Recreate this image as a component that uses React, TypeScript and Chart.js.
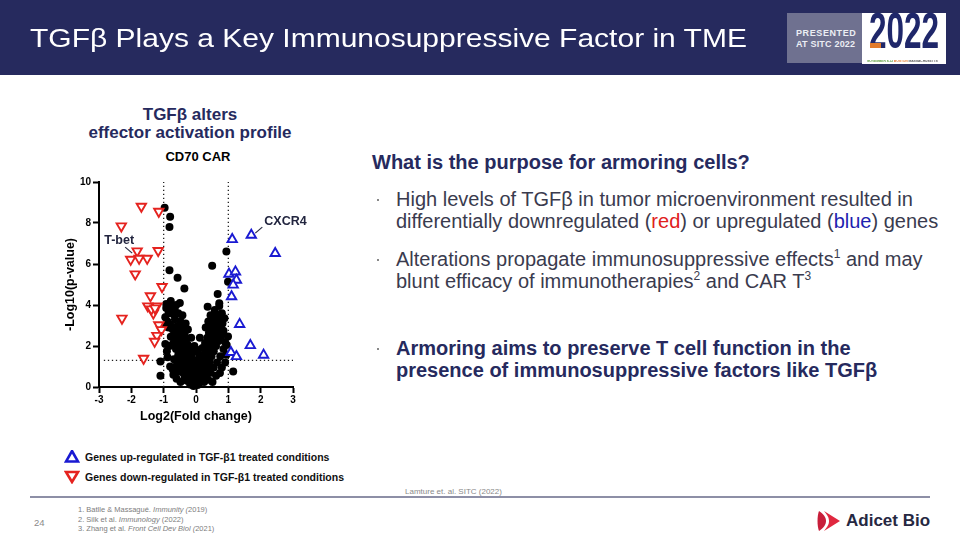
import React, { useEffect, useRef } from "react";
import { Chart, registerables } from "chart.js";

Chart.register(...registerables);

// ---------- data ----------
const xTickValues = [-3, -2, -1, 0, 1, 2, 3];
const yTickValues = [0, 2, 4, 6, 8, 10];
const foldChangeCutoffs = [-1, 1];
const pValueCutoff = 1.3;
const pValueLineStart = -2.85;

// Genes up-regulated (blue, triangle up): [log2FC, -log10 p]
const upGenes: [number, number][] = [
  [1.12, 7.2], [1.71, 7.41], [2.45, 6.52], [1.02, 5.51], [1.22, 5.62],
  [1.25, 5.22], [1.15, 4.98], [1.1, 4.41], [1.35, 3.06], [1.68, 2.03],
  [1.08, 1.69], [1.25, 1.49], [2.09, 1.56],
];

// Genes down-regulated (red, triangle down)
const downGenes: [number, number][] = [
  [-1.69, 8.81], [-1.15, 8.56], [-2.31, 7.85], [-1.82, 6.63], [-1.17, 6.65],
  [-2.02, 6.22], [-1.76, 6.27], [-1.51, 6.27], [-1.88, 5.51], [-1.05, 4.89],
  [-1.41, 4.44], [-1.49, 3.95], [-1.21, 3.95], [-1.32, 3.6], [-1.38, 3.8],
  [-1.27, 3.85], [-2.29, 3.35], [-1.15, 3.03], [-1.07, 2.79], [-1.21, 2.51],
  [-1.28, 2.22], [-1.62, 1.39],
];

// Genes not significantly changed (black circles)
const otherGenes: [number, number][] = [
  [-0.97, 8.74], [-0.8, 8.3], [-0.82, 7.81], [0.94, 6.61], [0.5, 5.92],
  [-0.82, 5.7], [-0.57, 5.33], [-0.36, 4.81], [0.99, 5.14], [0.67, 4.54],
  [-0.92, 4.05], [-0.61, 4.0], [0.36, 3.92], [0.72, 4.08], [0.58, 3.76],
  [-0.95, 2.95], [0.99, 2.46], [0.94, 1.57], [-1.1, 1.25], [1.15, 0.76],
  [-1.1, 0.55], [0.74, 0.68], [0.51, 0.24],
  [-0.92, 3.85], [-0.85, 3.6], [-0.75, 3.9], [-0.7, 3.55], [-0.95, 3.4],
  [-0.88, 3.2], [-0.8, 3.05], [-0.65, 3.3], [-0.55, 3.6], [-0.48, 3.2],
  [-0.6, 2.95], [-0.72, 2.8], [-0.85, 2.9], [-0.4, 2.9], [-0.52, 2.7],
  [-0.65, 2.55], [-0.78, 2.45], [-0.45, 2.45], [-0.35, 2.6], [-0.58, 2.3],
  [-0.7, 2.15], [-0.4, 2.15], [-0.3, 2.3], [-0.52, 2.0], [-0.62, 1.85],
  [-0.35, 1.9], [-0.25, 2.05], [-0.45, 1.7], [-0.55, 1.55], [-0.3, 1.6],
  [-0.2, 1.75], [-0.4, 1.4], [-0.5, 1.25], [-0.25, 1.35], [-0.15, 1.5],
  [-0.35, 1.15], [-0.6, 1.05], [-0.45, 0.95], [-0.2, 1.1], [-0.1, 1.25],
  [-0.3, 0.9], [-0.72, 0.85], [-0.55, 0.75], [-0.4, 0.7], [-0.15, 0.85],
  [-0.25, 0.65], [-0.05, 0.95], [-0.35, 0.5], [-0.2, 0.45], [-0.1, 0.6],
  [-0.28, 0.3], [-0.12, 0.25], [-0.05, 0.4], [-0.18, 0.12], [-0.02, 0.1],
  [-0.08, 0.05], [-0.88, 1.45], [-0.8, 1.0], [-0.68, 1.35], [-0.95, 2.1],
  [-0.9, 1.75], [-0.82, 2.0], [-0.32, 3.1], [-0.25, 2.8], [-0.42, 3.5],
  [-0.66, 3.8], [-0.78, 4.2], [-0.5, 4.1],
  [0.05, 0.1], [0.1, 0.2], [0.02, 0.3], [0.15, 0.4], [0.08, 0.55],
  [0.22, 0.6], [0.12, 0.75], [0.28, 0.85], [0.18, 0.95], [0.05, 0.8],
  [0.35, 1.0], [0.25, 1.1], [0.15, 1.2], [0.42, 1.25], [0.32, 1.35],
  [0.2, 1.45], [0.48, 1.5], [0.38, 1.6], [0.28, 1.7], [0.55, 1.75],
  [0.45, 1.85], [0.2, 1.9], [0.35, 1.95], [0.62, 2.0], [0.52, 2.1],
  [0.28, 2.15], [0.42, 2.25], [0.7, 2.25], [0.6, 2.35], [0.35, 2.4],
  [0.5, 2.5], [0.78, 2.5], [0.68, 2.6], [0.4, 2.65], [0.58, 2.75],
  [0.85, 2.75], [0.75, 2.85], [0.3, 2.9], [0.48, 2.95], [0.65, 3.05],
  [0.82, 3.1], [0.38, 3.2], [0.55, 3.25], [0.72, 3.35], [0.45, 3.5],
  [0.62, 3.55], [0.8, 3.6], [0.52, 3.1], [0.9, 2.2], [0.85, 1.85],
  [0.75, 1.5], [0.65, 1.2], [0.55, 0.95], [0.45, 0.7], [0.9, 1.2],
  [0.8, 0.95], [0.62, 0.55], [0.38, 0.35], [0.25, 0.25], [0.95, 2.05],
  [0.88, 3.35], [0.72, 3.95],
  [-0.08, 0.2], [0.0, 0.15], [-0.15, 0.3], [0.1, 0.35], [0.0, 0.5],
  [-0.05, 0.7], [0.05, 0.65], [0.0, 1.0], [-0.1, 1.7], [0.1, 1.55],
  [0.0, 1.3], [-0.05, 2.0], [0.05, 1.8], [-0.15, 2.4], [0.12, 2.4],
  [-0.6, 0.4], [-0.48, 0.25], [-0.7, 0.6], [0.3, 0.5],
];

const labeledGenes = [
  { name: "CXCR4", x: 1.71, y: 7.41 },
  { name: "T-bet", x: -1.82, y: 6.63 },
];

// ---------- styles ----------
const FONT = "'Liberation Sans', Arial, Helvetica, sans-serif";
const NAVY = "#262a5e";
const BLUE = "#1a1ad2";
const RED = "#e5231f";

const labelOffsets: Record<string, { line: number[]; text: number[]; align: CanvasTextAlign }> = {
  CXCR4: { line: [4, -2, 11, -8], text: [13, -14], align: "left" },
  "T-bet": { line: [-5, 2, -12, -4], text: [-18, -11], align: "center" },
};

const guidesPlugin = {
  id: "guides",
  beforeDatasetsDraw(chart: any) {
    const { ctx } = chart;
    const xs = chart.scales.x;
    const ys = chart.scales.y;
    ctx.save();
    ctx.strokeStyle = "#222";
    ctx.lineWidth = 1.3;
    ctx.setLineDash([1.3, 2.7]);
    foldChangeCutoffs.forEach((v) => {
      const px = xs.getPixelForValue(v);
      ctx.beginPath();
      ctx.moveTo(px, ys.getPixelForValue(0));
      ctx.lineTo(px, ys.getPixelForValue(10));
      ctx.stroke();
    });
    const py = ys.getPixelForValue(pValueCutoff);
    ctx.beginPath();
    ctx.moveTo(xs.getPixelForValue(pValueLineStart), py);
    ctx.lineTo(xs.getPixelForValue(3), py);
    ctx.stroke();
    ctx.restore();
  },
  afterDatasetsDraw(chart: any) {
    const { ctx } = chart;
    const xs = chart.scales.x;
    const ys = chart.scales.y;
    ctx.save();
    labeledGenes.forEach((g) => {
      const o = labelOffsets[g.name];
      const px = xs.getPixelForValue(g.x);
      const py = ys.getPixelForValue(g.y);
      ctx.strokeStyle = "#2a2d45";
      ctx.lineWidth = 1.2;
      ctx.setLineDash([]);
      ctx.beginPath();
      ctx.moveTo(px + o.line[0], py + o.line[1]);
      ctx.lineTo(px + o.line[2], py + o.line[3]);
      ctx.stroke();
      ctx.fillStyle = "#22253f";
      ctx.font = `bold 12.5px ${FONT}`;
      ctx.textAlign = o.align;
      ctx.textBaseline = "middle";
      ctx.fillText(g.name, px + o.text[0], py + o.text[1]);
    });
    ctx.restore();
  },
};

function Volcano() {
  const ref = useRef<HTMLCanvasElement | null>(null);
  useEffect(() => {
    if (!ref.current) return;
    const tickFont = { family: FONT, size: 10, weight: "bold" as const };
    const titleFont = { family: FONT, size: 12.5, weight: "bold" as const };
    const chart = new Chart(ref.current, {
      type: "scatter",
      data: {
        datasets: [
          {
            label: "up",
            data: upGenes.map(([x, y]) => ({ x, y })),
            pointStyle: "triangle",
            pointRadius: 5.4,
            pointBorderWidth: 1.9,
            pointBorderColor: BLUE,
            pointBackgroundColor: "#fff",
            order: 1,
            clip: false,
          } as any,
          {
            label: "down",
            data: downGenes.map(([x, y]) => ({ x, y })),
            pointStyle: "triangle",
            pointRotation: 180,
            pointRadius: 5.4,
            pointBorderWidth: 1.9,
            pointBorderColor: RED,
            pointBackgroundColor: "#fff",
            order: 2,
            clip: false,
          } as any,
          {
            label: "other",
            data: otherGenes.map(([x, y]) => ({ x, y })),
            pointStyle: "circle",
            pointRadius: 4,
            pointBorderWidth: 0,
            pointBackgroundColor: "#000",
            pointBorderColor: "#000",
            order: 3,
            clip: false,
          } as any,
        ],
      },
      options: {
        animation: false,
        responsive: false,
        events: [],
        layout: { padding: { left: 0, right: 27, top: 17, bottom: 2 } },
        plugins: { legend: { display: false }, tooltip: { enabled: false } },
        scales: {
          x: {
            type: "linear",
            min: -3,
            max: 3,
            afterBuildTicks: (s: any) => {
              s.ticks = xTickValues.map((v) => ({ value: v }));
            },
            afterFit: (s: any) => {
              s.height = 41;
            },
            grid: { drawOnChartArea: false, drawTicks: true, tickLength: 6, tickWidth: 2, tickColor: "#000" },
            border: { display: true, color: "#000", width: 2 },
            ticks: { color: "#000", font: tickFont, padding: 1, maxRotation: 0, autoSkip: false },
            title: { display: true, text: "Log2(Fold change)", color: "#000", font: titleFont, padding: { top: 0, bottom: 4 } },
          },
          y: {
            type: "linear",
            min: 0,
            max: 10,
            afterBuildTicks: (s: any) => {
              s.ticks = yTickValues.map((v) => ({ value: v }));
            },
            afterFit: (s: any) => {
              s.width = 39;
            },
            grid: { drawOnChartArea: false, drawTicks: true, tickLength: 6, tickWidth: 2, tickColor: "#000" },
            border: { display: true, color: "#000", width: 2 },
            ticks: { color: "#000", font: tickFont, padding: 2, autoSkip: false },
            title: { display: true, text: "-Log10(p-value)", color: "#000", font: titleFont, padding: { top: 3, bottom: 0 } },
          },
        },
      } as any,
      plugins: [guidesPlugin],
    });
    return () => chart.destroy();
  }, []);
  return (
    <canvas
      ref={ref}
      width={260}
      height={265}
      style={{ position: "absolute", left: 60, top: 165, width: 260, height: 265 }}
    />
  );
}

function T(props: { x: number; cy: number; size: number; children: any; style?: any; lh?: number }) {
  const lh = props.lh ?? Math.round(props.size * 1.15);
  return (
    <div
      style={{
        position: "absolute",
        left: props.x,
        top: props.cy - lh / 2,
        fontSize: props.size,
        lineHeight: lh + "px",
        whiteSpace: "nowrap",
        ...props.style,
      }}
    >
      {props.children}
    </div>
  );
}

function Tri({ x, y, color, down }: { x: number; y: number; color: string; down?: boolean }) {
  const pts = down ? "2,2 14,2 8,12" : "8,1 14,11.5 2,11.5";
  return (
    <svg width={16} height={14} style={{ position: "absolute", left: x - 8, top: y - 7 }}>
      <polygon points={pts} fill="#fff" stroke={color} strokeWidth={2.6} strokeLinejoin="miter" />
    </svg>
  );
}

export default function App() {
  const body: React.CSSProperties = { color: "#3a3b4e" };
  const sup: React.CSSProperties = { fontSize: 12, verticalAlign: "top", lineHeight: "14px", position: "relative", top: -1 };
  return (
    <div
      style={{
        position: "absolute",
        left: 0,
        top: 0,
        width: 960,
        height: 540,
        background: "#fff",
        overflow: "hidden",
        fontFamily: FONT,
      }}
    >
      {/* header */}
      <div style={{ position: "absolute", left: 0, top: 0, width: 960, height: 75, background: NAVY }} />
      <T x={30} cy={38} size={25} style={{ color: "#fff", transform: "scaleX(1.2)", transformOrigin: "left center" }}>
        TGFβ Plays a Key Immunosuppressive Factor in TME
      </T>
      {/* SITC badge */}
      <div style={{ position: "absolute", left: 787, top: 13, width: 75, height: 50, background: "#6f7190" }} />
      <T x={796} cy={33} size={9} style={{ color: "#eceef4", fontWeight: "bold", letterSpacing: 0.6 }}>
        PRESENTED
      </T>
      <T x={796} cy={44} size={9} style={{ color: "#eceef4", fontWeight: "bold", letterSpacing: 0.2 }}>
        AT SITC 2022
      </T>
      <div style={{ position: "absolute", left: 862, top: 13, width: 84, height: 51, background: "#fff" }} />
      <div
        style={{
          position: "absolute",
          left: 848,
          top: 12,
          width: 112,
          textAlign: "center",
          fontSize: 50,
          lineHeight: "38px",
          height: 38,
          fontWeight: "bold",
          color: "#1f276a",
          transform: "scaleX(0.63)",
          transformOrigin: "center",
        }}
      >
        2022
      </div>
      <div style={{ position: "absolute", left: 870, top: 43, width: 11, height: 5, background: "#e27a2a" }} />
      <div
        style={{
          position: "absolute",
          left: 867,
          top: 59.5,
          width: 74,
          fontSize: 3.4,
          lineHeight: "3.6px",
          fontWeight: "bold",
          letterSpacing: -0.1,
          whiteSpace: "nowrap",
          color: "transparent",
          background: "linear-gradient(to right, #5a9b3a 0 36%, #e27a2a 36% 55%, #555 55% 100%)",
          WebkitBackgroundClip: "text",
          backgroundClip: "text",
        }}
      >
        NOVEMBER 8-12 BOSTON MASSACHUSETTS
      </div>

      {/* chart titles */}
      <div
        style={{
          position: "absolute",
          left: 60,
          top: 106,
          width: 260,
          textAlign: "center",
          fontSize: 17,
          lineHeight: "18px",
          fontWeight: "bold",
          color: NAVY,
        }}
      >
        TGFβ alters
        <br />
        effector activation profile
      </div>
      <div
        style={{
          position: "absolute",
          left: 98,
          top: 149,
          width: 200,
          textAlign: "center",
          fontSize: 13,
          lineHeight: "16px",
          fontWeight: "bold",
          color: "#000",
        }}
      >
        CD70 CAR
      </div>

      <Volcano />

      {/* legend */}
      <Tri x={72} y={457} color={BLUE} />
      <T x={85} cy={457} size={10.5} style={{ fontWeight: "bold", color: "#111" }}>
        Genes up-regulated in TGF-β1 treated conditions
      </T>
      <Tri x={72} y={477} color={RED} down />
      <T x={85} cy={477} size={10.5} style={{ fontWeight: "bold", color: "#111" }}>
        Genes down-regulated in TGF-β1 treated conditions
      </T>

      {/* right text */}
      <T x={372} cy={162} size={20} style={{ fontWeight: "bold", color: NAVY }}>
        What is the purpose for armoring cells?
      </T>
      <div style={{ position: "absolute", left: 377, top: 199, width: 2, height: 2, background: "#888" }} />
      <div style={{ position: "absolute", left: 396, top: 188, fontSize: 20, lineHeight: "22px", whiteSpace: "nowrap", ...body }}>
        High levels of TGFβ in tumor microenvironment resulted in
        <br />
        differentially downregulated (<span style={{ color: "#e0201c" }}>red</span>) or upregulated (
        <span style={{ color: "#1f1fb0" }}>blue</span>) genes
      </div>
      <div style={{ position: "absolute", left: 377, top: 259, width: 2, height: 2, background: "#888" }} />
      <div style={{ position: "absolute", left: 396, top: 248, fontSize: 20, lineHeight: "22px", whiteSpace: "nowrap", ...body }}>
        Alterations propagate immunosuppressive effects<span style={sup}>1</span> and may
        <br />
        blunt efficacy of immunotherapies<span style={sup}>2</span> and CAR T<span style={sup}>3</span>
      </div>
      <div style={{ position: "absolute", left: 377, top: 348, width: 2, height: 2, background: "#888" }} />
      <div
        style={{
          position: "absolute",
          left: 396,
          top: 337,
          fontSize: 20,
          lineHeight: "22px",
          whiteSpace: "nowrap",
          fontWeight: "bold",
          color: NAVY,
        }}
      >
        Armoring aims to preserve T cell function in the
        <br />
        presence of immunosuppressive factors like TGFβ
      </div>

      {/* footer */}
      <T x={405} cy={491} size={8} style={{ color: "#8a8a8a" }}>
        Lamture et. al. SITC (2022)
      </T>
      <div style={{ position: "absolute", left: 30, top: 496, width: 900, height: 2, background: "#8d8fa6" }} />
      <T x={34} cy={522} size={9.5} style={{ color: "#8a8a8a" }}>
        24
      </T>
      <div style={{ position: "absolute", left: 78, top: 505, fontSize: 7.5, lineHeight: "9.7px", color: "#7d7d7d", whiteSpace: "nowrap" }}>
        1. Batlle &amp; Massagué. <i>Immunity (</i>2019)
        <br />
        2. Silk et al. <i>Immunology</i> (2022)
        <br />
        3. Zhang et al. <i>Front Cell Dev Biol (</i>2021)
      </div>
      {/* Adicet Bio logo */}
      <svg width={26} height={26} style={{ position: "absolute", left: 816, top: 508 }}>
        <path d="M3,3 C8,6 10,10 10,13 C10,16 8,20 3,23 C1,18 1,8 3,3 Z" fill="#c81e3a" />
        <path d="M8,3 L24,13 L8,23 C12,18 13,16 13,13 C13,10 12,8 8,3 Z" fill="#e0283f" />
      </svg>
      <T x={846} cy={521} size={17} style={{ fontWeight: "bold", color: "#262842" }}>
        Adicet Bio
      </T>
    </div>
  );
}
